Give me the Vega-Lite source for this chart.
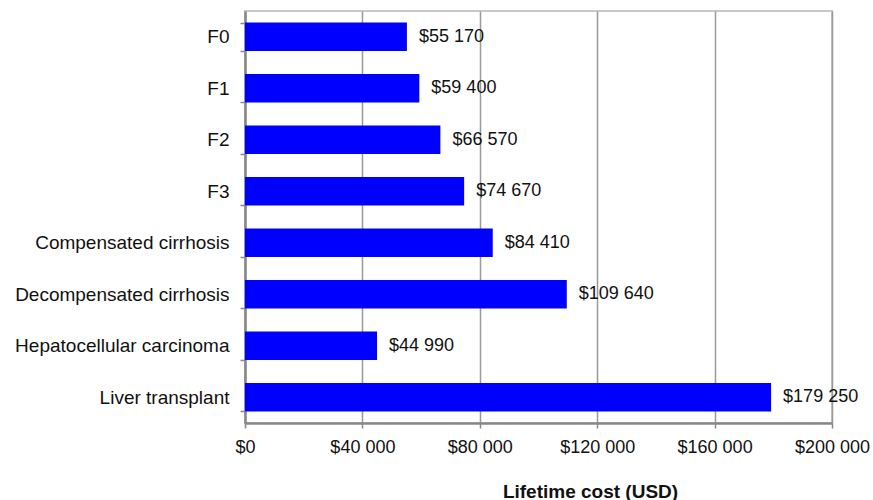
{
  "$schema": "https://vega.github.io/schema/vega-lite/v6.json",
  "width": 587,
  "height": 412,
  "autosize": {"type": "none"},
  "padding": {"left": 245, "top": 11, "right": 41, "bottom": 77},
  "config": {
    "locale": {"number": {"decimal": ".", "thousands": " ", "grouping": [3], "currency": ["$", ""]}},
    "font": "Liberation Sans",
    "view": {"stroke": "#c8c8c8", "strokeWidth": 2}
  },
  "data": {
    "values": [
      {"state": "F0", "cost": 55170},
      {"state": "F1", "cost": 59400},
      {"state": "F2", "cost": 66570},
      {"state": "F3", "cost": 74670},
      {"state": "Compensated cirrhosis", "cost": 84410},
      {"state": "Decompensated cirrhosis", "cost": 109640},
      {"state": "Hepatocellular carcinoma", "cost": 44990},
      {"state": "Liver transplant", "cost": 179250}
    ]
  },
  "encoding": {
    "y": {
      "field": "state",
      "type": "nominal",
      "sort": null,
      "scale": {"paddingInner": 0.45, "paddingOuter": 0.225},
      "axis": {
        "title": null,
        "tickBand": "extent",
        "labelFontSize": 19,
        "labelColor": "#111",
        "labelPadding": 11,
        "labelLimit": 300,
        "tickSize": 5,
        "tickColor": "#888",
        "tickWidth": 1.5,
        "domainColor": "#888",
        "domainWidth": 2.5,
        "grid": false
      }
    },
    "x": {
      "field": "cost",
      "type": "quantitative",
      "scale": {"domain": [0, 200000], "nice": false},
      "axis": {
        "title": "Lifetime cost (USD)",
        "titleFontSize": 19,
        "titleFontWeight": "bold",
        "titleColor": "#111",
        "titleX": 345,
        "titleY": 74,
        "titleBaseline": "alphabetic",
        "values": [0, 40000, 80000, 120000, 160000, 200000],
        "format": "$,d",
        "labelFontSize": 18,
        "labelColor": "#111",
        "labelPadding": 10,
        "labelFlush": false,
        "labelOverlap": false,
        "labelBound": false,
        "tickSize": 5,
        "tickColor": "#888",
        "tickWidth": 1.5,
        "domainColor": "#888",
        "domainWidth": 2.5,
        "grid": true,
        "gridColor": "#999",
        "gridWidth": 1.5
      }
    }
  },
  "layer": [
    {"mark": {"type": "bar", "color": "#0000ff"}},
    {
      "mark": {"type": "text", "align": "left", "baseline": "middle", "dx": 12, "fontSize": 18, "color": "#111"},
      "encoding": {"text": {"field": "cost", "type": "quantitative", "format": "$,d"}}
    }
  ]
}
